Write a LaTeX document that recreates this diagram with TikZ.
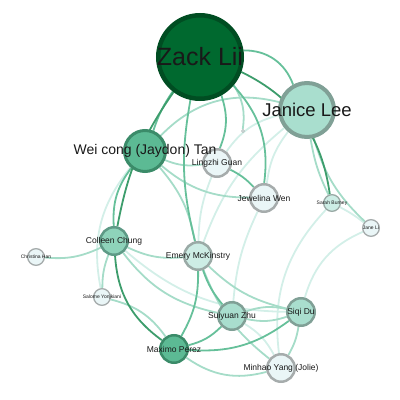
\documentclass[tikz,border=0pt]{standalone}
\usepackage{fontspec}
\setmainfont{Liberation Sans}
\usetikzlibrary{backgrounds}

\definecolor{zackfill}{HTML}{00692F}
\definecolor{zackline}{HTML}{004D22}
\definecolor{deepfill}{HTML}{5CBA94}
\definecolor{deepline}{HTML}{3B8B69}
\definecolor{colfill}{HTML}{8ED3BA}
\definecolor{colline}{HTML}{5E9A86}
\definecolor{midfill}{HTML}{A9DECE}
\definecolor{midline}{HTML}{80A096}
\definecolor{softfill}{HTML}{CDEDE5}
\definecolor{softline}{HTML}{9AAAA6}
\definecolor{palefill}{HTML}{EAF6F7}
\definecolor{paleline}{HTML}{A6ACAC}
\definecolor{tiedarkc}{HTML}{3D9D6C}
\definecolor{tiemidc}{HTML}{66C09A}
\definecolor{tielightc}{HTML}{A5DCC8}
\definecolor{tiepalec}{HTML}{D3EFE8}

\tikzset{
  person/.style={circle,inner sep=0pt,line width=2.5pt,minimum size=27.5pt},
  smallperson/.style={person,line width=1.3pt,minimum size=16.7pt},
  tag/.style={inner sep=0pt,text=black!90},
  tie/.style={line width=1.8pt},
  tiedark/.style={tie,draw=tiedarkc},
  tiemid/.style={tie,draw=tiemidc},
  tielight/.style={tie,draw=tielightc},
  tiepale/.style={tie,draw=tiepalec}
}

\begin{document}
\begin{tikzpicture}[x=1pt,y=1pt]
  \useasboundingbox (0,0) rectangle (400,400);

  \node[person,fill=zackfill,draw=zackline,line width=4.5pt,minimum size=83.5pt] (zack) at (200,343) {};
  \node[person,fill=midfill,draw=midline,line width=4pt,minimum size=54pt] (janice) at (307,290) {};
  \node[person,fill=deepfill,draw=deepline,line width=3pt,minimum size=41pt] (weicong) at (145,249) {};
  \node[person,fill=palefill,draw=paleline] (lingzhi) at (217,237) {};
  \node[person,fill=palefill,draw=paleline] (jewelina) at (264,202) {};
  \node[smallperson,fill=softfill,draw=softline] (sarah) at (332,197) {};
  \node[smallperson,fill=palefill,draw=paleline] (jane) at (371,172) {};
  \node[smallperson,fill=palefill,draw=paleline] (christina) at (36,143) {};
  \node[person,fill=colfill,draw=colline] (colleen) at (114,159) {};
  \node[person,fill=softfill,draw=softline] (emery) at (198,144) {};
  \node[smallperson,fill=palefill,draw=paleline] (salome) at (102,103) {};
  \node[person,fill=midfill,draw=midline] (suiyuan) at (232,84) {};
  \node[person,fill=midfill,draw=midline] (siqi) at (301,88) {};
  \node[person,fill=deepfill,draw=deepline] (maximo) at (174,51) {};
  \node[person,fill=palefill,draw=paleline] (minhao) at (281,32) {};
  \node[circle,inner sep=0pt,minimum size=3pt,fill=palefill,draw=paleline,line width=0.4pt] (tiny) at (243,269) {};

  \begin{pgfonlayer}{background}
    \foreach \a/\b/\k in {weicong/salome/-25,janice/lingzhi/-20,janice/jewelina/-15,
      janice/emery/-15,sarah/jane/5,sarah/minhao/-25,jane/siqi/-25,jewelina/suiyuan/-10,
      lingzhi/emery/-10,colleen/siqi/-20,suiyuan/minhao/15}
      \draw[tiepale] (\a) to[bend left=\k] (\b);
    \foreach \a/\b/\k in {weicong/janice/30,zack/tiny/20,weicong/lingzhi/-15,
      weicong/jewelina/-20,weicong/emery/15,janice/sarah/-8,janice/jane/-15,
      christina/colleen/-15,colleen/salome/-10,colleen/emery/-15,colleen/suiyuan/-20,
      salome/maximo/20,emery/siqi/-15,emery/minhao/-15,maximo/minhao/-25,
      suiyuan/siqi/-15,suiyuan/siqi/15,siqi/minhao/10}
      \draw[tielight] (\a) to[bend left=\k] (\b);
    \foreach \a/\b/\k in {zack/janice/35,zack/weicong/-8,zack/emery/-12,zack/jewelina/25,
      zack/lingzhi/20,emery/maximo/15,emery/suiyuan/-10,maximo/suiyuan/-15,
      maximo/siqi/-20,lingzhi/jewelina/10,weicong/colleen/-20}
      \draw[tiemid] (\a) to[bend left=\k] (\b);
    \foreach \a/\b/\k in {zack/sarah/28,zack/colleen/-12,colleen/maximo/-25}
      \draw[tiedark] (\a) to[bend left=\k] (\b);
  \end{pgfonlayer}

  \node[tag,font=\fontsize{25}{30}\selectfont] (zack-t) at (zack) {Zack Lii};
  \node[tag,font=\fontsize{18.5}{22}\selectfont] (janice-t) at (janice) {Janice Lee};
  \node[tag,font=\fontsize{14}{17}\selectfont] (weicong-t) at (weicong) {Wei cong (Jaydon) Tan};
  \node[tag,font=\fontsize{8.5}{10}\selectfont] (lingzhi-t) at (lingzhi) {Lingzhi Guan};
  \node[tag,font=\fontsize{8.5}{10}\selectfont] (jewelina-t) at (jewelina) {Jewelina Wen};
  \node[tag,font=\fontsize{8.5}{10}\selectfont] (colleen-t) at (colleen) {Colleen Chung};
  \node[tag,font=\fontsize{8.5}{10}\selectfont] (emery-t) at (emery) {Emery McKinstry};
  \node[tag,font=\fontsize{8.5}{10}\selectfont] (suiyuan-t) at (suiyuan) {Suiyuan Zhu};
  \node[tag,font=\fontsize{8.5}{10}\selectfont] (siqi-t) at (siqi) {Siqi Du};
  \node[tag,font=\fontsize{8.5}{10}\selectfont] (maximo-t) at (maximo) {Maximo Perez};
  \node[tag,font=\fontsize{8.5}{10}\selectfont] (minhao-t) at (minhao) {Minhao Yang (Jolie)};
  \node[tag,font=\fontsize{5}{6}\selectfont] (sarah-t) at (sarah) {Sarah Burney};
  \node[tag,font=\fontsize{5}{6}\selectfont] (jane-t) at (jane) {Jane Li};
  \node[tag,font=\fontsize{5}{6}\selectfont] (christina-t) at (christina) {Christina Han};
  \node[tag,font=\fontsize{5}{6}\selectfont] (salome-t) at (salome) {Salome Yonjkiani};
\end{tikzpicture}
\end{document}
